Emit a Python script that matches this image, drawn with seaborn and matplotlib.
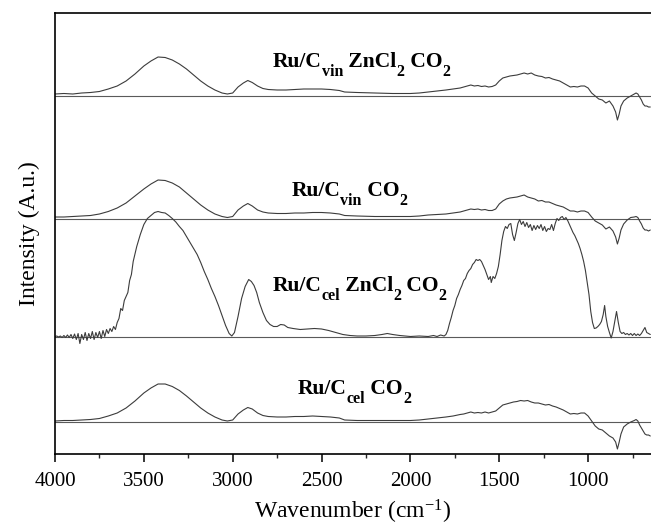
import numpy as np
import pandas as pd
import matplotlib
matplotlib.use("Agg")
import matplotlib.pyplot as plt
from matplotlib.ticker import MultipleLocator
import seaborn as sns

# ---------------- data (heights above each trace's own baseline) ----------------
wn_grid = [4000, 3950, 3900, 3850, 3800, 3750, 3700, 3650, 3600, 3550,
           3500, 3460, 3420, 3380, 3340, 3300, 3260, 3220, 3180, 3140,
           3100, 3060, 3030, 3000, 2970, 2940, 2915, 2890, 2860, 2830,
           2800, 2750, 2700, 2650, 2600, 2550, 2500, 2450, 2400, 2370,
           2300, 2200, 2100, 2000, 1950, 1900, 1850, 1800, 1760, 1720,
           1700, 1680, 1660, 1640, 1620, 1600, 1580, 1560, 1540, 1520,
           1500, 1480, 1460, 1440, 1420, 1400, 1380, 1360, 1340, 1320,
           1300, 1280, 1260, 1240, 1220, 1200, 1180, 1160, 1140, 1120,
           1100, 1080, 1060, 1040, 1020, 1000, 980, 960, 940, 920,
           900, 880, 860, 845, 835, 825, 815, 800, 780, 760,
           740, 730, 720, 710, 700, 690, 680, 670, 660, 650]

vin_zn = [2, 2.5, 2, 3, 3.5, 4.5, 7, 10, 15, 22,
          30, 35, 39, 38.5, 36, 32, 27, 21, 15, 10,
          6, 3, 2, 3, 9, 13, 15.5, 13.5, 10, 7.5,
          6.5, 6, 6, 6.5, 7, 7, 7, 6.5, 5.5, 4,
          3.5, 3, 2.5, 2.5, 3, 4, 5, 6, 7, 8,
          9, 10, 11, 10, 10.5, 9.5, 10, 9, 9.5, 11,
          15, 18, 19, 20, 20.5, 21, 22, 23, 22, 23,
          21, 20, 19.5, 18, 18.5, 17, 16, 15, 13, 11,
          9, 9.5, 9, 10, 10, 8, 3, 0, -3, -4,
          -7, -5, -10, -16, -24, -18, -10, -5, -2, 0,
          2, 3, 2, -1, -4, -8, -10, -10, -11, -11]

vin_co2 = [2, 2, 2.5, 3, 3.5, 5, 7.5, 11, 16, 23,
           30, 35, 39, 38.5, 36, 32, 26, 20, 14, 9,
           5, 2.5, 1.5, 2.5, 9, 13, 15.5, 13, 9, 7,
           6, 5.5, 5.5, 6, 6, 6.5, 6.5, 6, 5, 3.5,
           3, 2.5, 2.5, 2.5, 3, 4, 4.5, 5, 6, 7,
           8, 9, 10, 9.5, 10, 9, 9.5, 8.5, 8.5, 10,
           15, 18, 20, 21, 21.5, 22, 23, 24, 22, 21,
           20, 18, 18.5, 17, 17, 15.5, 14, 13, 12, 10,
           8, 8, 7, 8, 8, 6.5, 2, -2, -4, -6,
           -10, -8, -12, -18, -25, -19, -11, -5, -1, 1.5,
           2, 2.5, 1.5, -2, -5, -9, -11, -11, -12, -11]

cel_co2 = [1, 1.5, 1.5, 2, 2.5, 3.5, 6, 9, 14, 21,
           29, 34, 38, 38, 35.5, 31.5, 26, 20, 14, 9,
           5, 2, 1, 2, 8, 12, 14.5, 13, 9, 6.5,
           5.5, 5, 5, 5.5, 5.5, 6, 5.5, 5, 4, 2,
           1.5, 1.5, 1.5, 1.5, 2, 3, 4, 5, 6, 7.5,
           8, 9, 10, 9, 9.5, 9, 10, 9, 10, 11,
           14, 17, 18, 19, 20, 20.5, 21.5, 21, 21.5, 20,
           19, 19, 18, 17, 17.5, 16, 15, 13.5, 12, 10,
           8, 8.5, 8, 9, 9, 6, 1, -4, -7, -8,
           -11, -14, -16, -20, -27, -20, -12, -5, -2, 0,
           1.5, 2.5, 1, -3, -6, -9, -12, -13, -13, -14]

cel_zn_pairs = [
    (4000, 0), (3990, 0.5), (3980, -0.5), (3970, 0.5), (3960, -1), (3950, 1), (3940, -1), (3930, 1.5),
    (3920, -1), (3910, 2), (3900, -2), (3890, 2.5), (3880, -3), (3870, 3), (3860, -7), (3850, 2),
    (3840, -3), (3830, 4), (3820, -4), (3810, 3), (3800, -2), (3790, 5), (3780, -3), (3770, 4),
    (3760, -1), (3750, 5), (3740, -2), (3730, 6), (3720, 0), (3710, 7), (3700, 3), (3690, 8),
    (3680, 5), (3670, 10), (3660, 7), (3650, 14), (3640, 18), (3630, 28), (3620, 26), (3610, 36),
    (3600, 40), (3590, 44), (3580, 56), (3570, 62), (3560, 75), (3540, 90), (3520, 102), (3500, 112),
    (3480, 118), (3460, 121), (3440, 124), (3420, 125), (3400, 124), (3380, 123.5), (3360, 121),
    (3340, 118), (3320, 114.5), (3300, 110), (3280, 106), (3260, 100), (3240, 94), (3220, 88),
    (3200, 82), (3180, 74), (3160, 65), (3140, 57), (3120, 48), (3100, 40), (3080, 31), (3060, 21),
    (3040, 11), (3020, 3), (3005, 0.5), (2990, 4), (2970, 20), (2950, 38), (2930, 50), (2910, 57),
    (2895, 55), (2880, 51), (2865, 44), (2850, 34), (2830, 24), (2810, 16), (2790, 12), (2770, 10),
    (2750, 10), (2730, 12), (2710, 11.5), (2690, 9), (2660, 8), (2620, 7), (2580, 7.5), (2540, 8),
    (2500, 7.5), (2460, 6), (2420, 4), (2380, 2), (2340, 1), (2300, 0.5), (2250, 0.5), (2200, 1),
    (2160, 2), (2130, 3), (2100, 2), (2060, 1), (2000, 0), (1950, 0.5), (1900, 0), (1870, 1),
    (1850, 0), (1830, 1.5), (1810, 0.5), (1800, 2), (1790, 6), (1780, 13), (1770, 19), (1760, 26),
    (1750, 31), (1740, 38), (1730, 42), (1720, 47), (1710, 51), (1700, 56), (1690, 58), (1680, 63),
    (1670, 66), (1660, 68), (1650, 72), (1640, 74), (1630, 77), (1620, 76), (1610, 77), (1600, 75),
    (1590, 71), (1580, 67), (1570, 62), (1560, 57), (1550, 60), (1545, 54), (1535, 60), (1525, 58),
    (1515, 63), (1505, 70), (1495, 82), (1485, 96), (1475, 105), (1465, 110), (1455, 108),
    (1445, 112), (1435, 113), (1425, 102), (1415, 96), (1405, 104), (1395, 113), (1385, 117),
    (1375, 112), (1365, 115), (1355, 110), (1345, 114), (1335, 109), (1325, 112), (1315, 106),
    (1305, 111), (1295, 107), (1285, 111), (1275, 108), (1265, 112), (1255, 106), (1245, 110),
    (1235, 105), (1225, 108), (1215, 107), (1205, 112), (1195, 106), (1185, 113), (1175, 118),
    (1165, 116), (1155, 119), (1145, 120), (1135, 117), (1125, 119), (1115, 116), (1105, 112),
    (1095, 108), (1085, 104), (1075, 101), (1065, 97), (1055, 93), (1045, 88), (1035, 82),
    (1025, 75), (1015, 66), (1005, 54), (995, 42), (985, 25), (975, 14), (965, 8), (955, 8.5),
    (945, 10), (935, 12), (925, 15), (915, 22), (907, 31), (900, 20), (890, 10), (880, 4),
    (870, -1.5), (860, 5), (850, 15), (840, 25), (830, 14), (820, 5), (810, 3), (800, 4),
    (790, 2), (780, 3), (770, 1.5), (760, 3), (750, 1), (740, 3), (730, 1), (720, 2.5),
    (710, 1), (700, 3), (690, 6), (680, 9), (670, 4), (660, 3), (650, 2)]

# label pieces: (text, is_subscript)
sample_labels = [
    [("Ru/C", False), ("vin", True), (" ZnCl", False), ("2", True), (" CO", False), ("2", True)],
    [("Ru/C", False), ("vin", True), (" CO", False), ("2", True)],
    [("Ru/C", False), ("cel", True), (" ZnCl", False), ("2", True), (" CO", False), ("2", True)],
    [("Ru/C", False), ("cel", True), (" CO", False), ("2", True)],
]
offsets = [358, 235, 117.5, 32]
label_x = [2275, 2343, 2287, 2315]
label_y = [387, 258, 163, 60]
xticks = [4000, 3500, 3000, 2500, 2000, 1500, 1000]

# ---------------- style ----------------
sns.set_theme(style="ticks")
plt.rcParams["font.family"] = ["Liberation Serif", "DejaVu Serif"]
plt.rcParams["mathtext.fontset"] = "custom"
plt.rcParams["mathtext.rm"] = "Liberation Serif"
plt.rcParams["mathtext.it"] = "Liberation Serif:italic"
plt.rcParams["mathtext.bf"] = "Liberation Serif:bold"

DPI = 100
fig = plt.figure(figsize=(6.51, 5.27), dpi=DPI)
ax = fig.add_axes([55 / 651, 73 / 527, 1 - 55 / 651, (454 - 12.7) / 527])

cel_zn_wn = [p[0] for p in cel_zn_pairs]
cel_zn = [p[1] for p in cel_zn_pairs]
series = [(wn_grid, vin_zn), (wn_grid, vin_co2), (cel_zn_wn, cel_zn), (wn_grid, cel_co2)]

line_col = "#3c3c3c"
for (wn, h), off in zip(series, offsets):
    df = pd.DataFrame({"wn": wn, "y": np.asarray(h, float) + off})
    sns.lineplot(data=df, x="wn", y="y", ax=ax, sort=False, estimator=None,
                 color=line_col, lw=0.8)
    ax.axhline(off, color="#5a5a5a", lw=0.8, zorder=1)

ax.set_xlim(4000, 646)
ax.set_ylim(0, 441.3)
ax.set_xticks(xticks)
ax.set_xticklabels([str(t) for t in xticks])
ax.xaxis.set_minor_locator(MultipleLocator(250))
ax.tick_params(axis="x", which="major", direction="out", length=6, width=1.1,
               labelsize=15, pad=7, colors="black")
ax.tick_params(axis="x", which="minor", direction="out", length=3.2, width=1.0)
ax.set_yticks([])
ax.set_xlabel(r"Wavenumber (cm$^{-1}$)", fontsize=17, labelpad=5, color="black")
ax.set_ylabel("Intensity (A.u.)", fontsize=17, labelpad=11, color="black")
for s in ["top", "left", "bottom"]:
    ax.spines[s].set_linewidth(1.2)
    ax.spines[s].set_color("black")
ax.spines["right"].set_visible(False)

# ---------------- sample labels with deep subscripts ----------------
MAIN_FS, SUB_FS, SUB_DROP = 15.5, 11.5, 6.5  # points
fig.canvas.draw()
renderer = fig.canvas.get_renderer()
for pieces, lx, ly in zip(sample_labels, label_x, label_y):
    widths = []
    for txt, sub in pieces:
        t = ax.text(0, 0, txt, fontsize=SUB_FS if sub else MAIN_FS, fontweight="bold")
        widths.append(t.get_window_extent(renderer).width * 72 / DPI)
        t.remove()
    total = sum(widths)
    x0 = -total / 2
    for (txt, sub), w in zip(pieces, widths):
        ax.annotate(txt, xy=(lx, ly), xycoords="data",
                    xytext=(x0, -SUB_DROP if sub else 0), textcoords="offset points",
                    ha="left", va="baseline", fontsize=SUB_FS if sub else MAIN_FS,
                    fontweight="bold", color="black")
        x0 += w

fig.savefig("out.png", dpi=DPI)
